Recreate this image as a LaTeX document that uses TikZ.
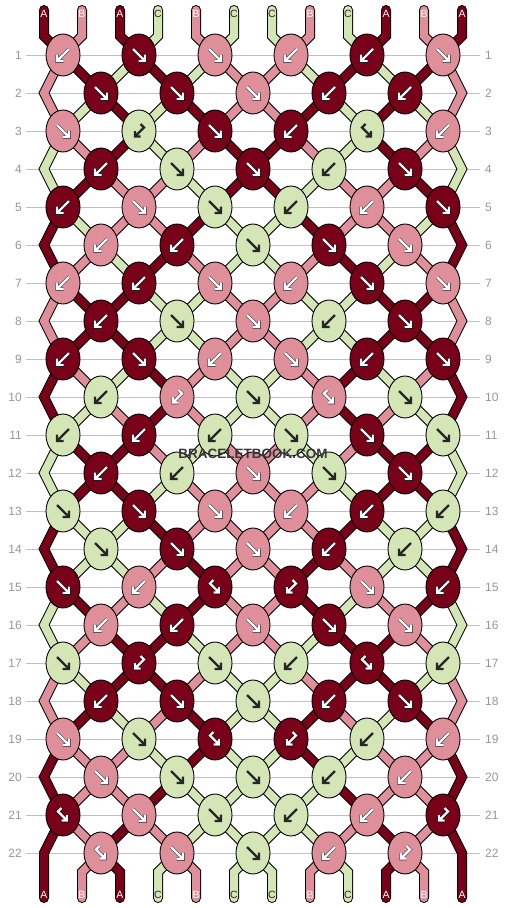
\documentclass[tikz,border=0pt]{standalone}
\usepackage{fontspec}
\setmainfont{Liberation Sans}
\usetikzlibrary{shapes.geometric}
\definecolor{colA}{RGB}{120,0,24}
\definecolor{colB}{RGB}{222,143,154}
\definecolor{colC}{RGB}{212,229,182}
\definecolor{gridgray}{RGB}{192,192,192}
\definecolor{numgray}{RGB}{150,150,150}
\definecolor{markgray}{RGB}{55,55,55}
\colorlet{txtA}{white}
\colorlet{txtB}{white}
\colorlet{txtC}{black!85}
\colorlet{rimA}{black}
\colorlet{rimB}{black!75}
\colorlet{rimC}{colC}
\pgfdeclarelayer{grid}
\pgfdeclarelayer{strands}
\pgfsetlayers{grid,strands,main}
\tikzset{
  knot/.style={ellipse, draw=black, line width=0.9pt, fill=col#1,
               minimum width=34pt, minimum height=42pt, inner sep=0pt},
  strand/.style={draw=col#1, line width=8pt, line cap=round, line join=miter,
                 preaction={draw=black, line width=10pt, line cap=round, line join=miter}},
  glyph/.style={draw=txt#1, line width=2.3pt, line join=miter,
                preaction={draw=rim#1, line width=3.5pt, line join=miter}},
  rowline/.style={draw=gridgray, line width=0.8pt},
  rownum/.style={text=numgray, font=\fontsize{12}{12}\selectfont, inner sep=0pt},
  letter/.style={text=txt#1, font=\fontsize{10.5}{10.5}\selectfont, inner sep=0pt},
  watermark/.style={text=markgray, font=\bfseries\fontsize{13.5}{14}\selectfont, inner sep=0pt},
  pics/arrR/.style={code={\draw[glyph=#1] (-6,-6) -- (6,6) (6,-0.5) -- (6,6) -- (-0.5,6);}},
  pics/arrL/.style={code={\draw[glyph=#1] (6,-6) -- (-6,6) (-6,-0.5) -- (-6,6) -- (0.5,6);}},
  pics/arrFB/.style={code={\draw[glyph=#1] (-1.5,-7) -- (-5,-3.5) -- (4,5.5) (4,0) -- (4,5.5) -- (-1.5,5.5);}},
  pics/arrBF/.style={code={\draw[glyph=#1] (1.5,-7) -- (5,-3.5) -- (-4,5.5) (-4,0) -- (-4,5.5) -- (1.5,5.5);}},
}

\begin{document}
\begin{tikzpicture}[x=1pt, y=-1pt]
  \useasboundingbox (0,0) rectangle (506,908);

  % row rules and row numbers
  \begin{pgfonlayer}{grid}
  \foreach \r in {1,...,22} {
    \pgfmathsetmacro\ry{55+38*(\r-1)}
    \draw[rowline] (26,\ry) -- (480,\ry);
  }
  \end{pgfonlayer}
  \foreach \r in {1,...,22} {
    \pgfmathsetmacro\ry{55+38*(\r-1)}
    \node[rownum, anchor=east] (numL\r) at (22,\ry) {\r};
    \node[rownum, anchor=west] (numR\r) at (485,\ry) {\r};
  }

  % edge bends on even rows
  \foreach \r in {2,4,...,22} {
    \coordinate (bendL\r) at (44,{55+38*(\r-1)});
    \coordinate (bendR\r) at (462,{55+38*(\r-1)});
  }

  % knots: colour/type per row
  \foreach \r/\row in {
    1/{B/L,A/R,B/R,B/L,A/L,B/R},
    2/{A/R,A/R,B/R,A/L,A/L},
    3/{B/R,C/BF,A/R,A/L,C/FB,B/L},
    4/{A/L,C/R,A/R,C/L,A/R},
    5/{A/L,B/R,C/R,C/L,B/L,A/R},
    6/{B/L,A/L,C/R,A/R,B/R},
    7/{B/L,A/L,B/R,B/L,A/R,B/R},
    8/{A/L,C/R,B/R,C/L,A/R},
    9/{A/L,A/R,B/L,B/R,A/L,A/R},
    10/{C/L,B/BF,C/R,B/FB,C/R},
    11/{C/L,A/L,C/L,C/R,A/R,C/R},
    12/{A/L,C/L,B/R,C/R,A/R},
    13/{C/R,A/R,B/R,B/L,A/L,C/L},
    14/{C/R,A/R,B/R,A/L,C/L},
    15/{A/R,B/L,A/FB,A/BF,B/R,A/L},
    16/{B/L,A/L,B/R,A/R,B/R},
    17/{C/R,A/BF,C/R,C/L,A/FB,C/L},
    18/{A/L,A/R,C/R,A/L,A/R},
    19/{B/R,C/R,A/FB,A/BF,C/L,B/L},
    20/{B/R,C/R,C/R,C/L,B/L},
    21/{A/FB,B/R,C/R,C/L,B/L,A/BF},
    22/{B/FB,B/R,C/R,B/L,B/BF}} {
    \pgfmathsetmacro\ky{55+38*(\r-1)}
    \pgfmathsetmacro\kx{mod(\r,2)==1 ? 63 : 101}
    \foreach \c/\t [count=\j] in \row {
      \node[knot=\c] (k\r-\j) at ({\kx+76*(\j-1)},\ky) {};
      \pic at (k\r-\j.center) {arr\t=\c};
    }
  }

  % strands between rows: string colours after each row
  \begin{pgfonlayer}{strands}
  \foreach \r/\st in {
    1/{B,A,C,A,C,B,B,C,A,C,A,B},
    2/{B,C,A,C,A,B,B,A,C,A,C,B},
    3/{C,B,A,C,B,A,A,B,C,A,B,C},
    4/{C,A,B,B,C,A,A,C,B,B,A,C},
    5/{A,C,B,B,A,C,C,A,B,B,C,A},
    6/{A,B,C,A,B,C,C,B,A,C,B,A},
    7/{B,A,A,C,C,B,B,C,C,A,A,B},
    8/{B,A,A,C,C,B,B,C,C,A,A,B},
    9/{A,B,C,A,B,C,C,B,A,C,B,A},
    10/{A,C,B,A,B,C,C,B,A,B,C,A},
    11/{C,A,A,B,C,B,B,C,B,A,A,C},
    12/{C,A,A,C,B,B,B,B,C,A,A,C},
    13/{A,C,C,A,B,B,B,B,A,C,C,A},
    14/{A,C,C,B,A,B,B,A,B,C,C,A},
    15/{C,A,B,C,A,B,B,A,C,B,A,C},
    16/{C,B,A,A,C,B,B,C,A,A,B,C},
    17/{B,C,A,A,B,C,C,B,A,A,C,B},
    18/{B,A,C,B,A,C,C,A,B,C,A,B},
    19/{A,B,B,C,A,C,C,A,C,B,B,A},
    20/{A,B,B,A,C,C,C,C,A,B,B,A},
    21/{A,B,A,B,C,C,C,C,B,A,B,A}} {
    \pgfmathtruncatemacro\rn{\r+1}
    \pgfmathtruncatemacro\rnn{\r+2}
    \foreach \c [count=\p] in \st {
      \pgfmathtruncatemacro\ja{mod(\r,2)==1 ? (\p+1)/2 : \p/2}
      \pgfmathtruncatemacro\jb{mod(\r,2)==1 ? \p/2 : (\p+1)/2}
      \ifnum\p>1 \ifnum\p<12
        \draw[strand=\c] (k\r-\ja.center) -- (k\rn-\jb.center);
      \fi\fi
      \ifodd\r \ifnum\r<21
        \ifnum\p=1 \draw[strand=\c] (k\r-1.center) -- (bendL\rn) -- (k\rnn-1.center); \fi
        \ifnum\p=12 \draw[strand=\c] (k\r-6.center) -- (bendR\rn) -- (k\rnn-6.center); \fi
      \fi\fi
    }
  }

  % top and bottom ends
  \foreach \c [count=\p] in {A,B,A,C,B,C,C,B,C,A,B,A} {
    \pgfmathsetmacro\sx{44+38*(\p-1)}
    \pgfmathtruncatemacro\j{(\p+1)/2}
    \pgfmathtruncatemacro\jj{\p/2}
    \draw[strand=\c] (\sx,10) -- (\sx,36) -- (k1-\j.center);
    \ifnum\p=1
      \draw[strand=\c] (k21-1.center) -- (bendL22) -- (\sx,898);
    \else\ifnum\p=12
      \draw[strand=\c] (k21-6.center) -- (bendR22) -- (\sx,898);
    \else
      \draw[strand=\c] (k22-\jj.center) -- (\sx,872) -- (\sx,898);
    \fi\fi
  }
  \end{pgfonlayer}

  % end labels
  \foreach \c [count=\p] in {A,B,A,C,B,C,C,B,C,A,B,A} {
    \pgfmathsetmacro\sx{44+38*(\p-1)}
    \node[letter=\c] (top\p) at (\sx,13.5) {\c};
    \node[letter=\c] (bot\p) at (\sx,895) {\c};
  }

  \node[watermark] (mark) at (253,454) {BRACELETBOOK.COM};
\end{tikzpicture}
\end{document}
